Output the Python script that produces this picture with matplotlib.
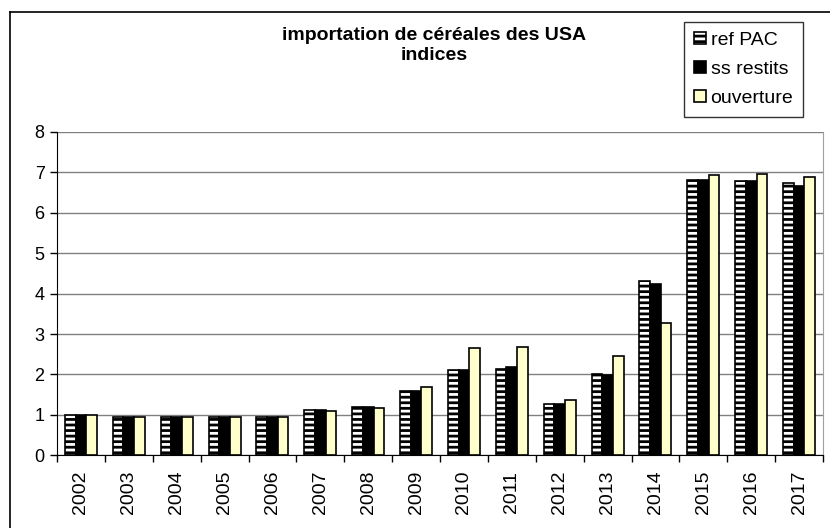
import numpy as np
import matplotlib
matplotlib.use('Agg')
import matplotlib.pyplot as plt
from matplotlib.lines import Line2D

plt.rcParams['font.family'] = ['Liberation Sans', 'DejaVu Sans']
plt.rcParams['hatch.color'] = 'black'
plt.rcParams['hatch.linewidth'] = 2.0

years = ['2002', '2003', '2004', '2005', '2006', '2007', '2008', '2009',
         '2010', '2011', '2012', '2013', '2014', '2015', '2016', '2017']
ref_pac = [1.00, 0.95, 0.95, 0.95, 0.95, 1.11, 1.19, 1.58,
           2.11, 2.14, 1.27, 2.02, 4.32, 6.82, 6.78, 6.74]
ss_restits = [1.00, 0.95, 0.95, 0.95, 0.95, 1.11, 1.19, 1.58,
              2.11, 2.18, 1.27, 1.98, 4.24, 6.80, 6.78, 6.66]
ouverture = [1.00, 0.95, 0.95, 0.95, 0.95, 1.10, 1.18, 1.69,
             2.65, 2.69, 1.38, 2.45, 3.28, 6.93, 6.97, 6.88]

fig = plt.figure(figsize=(8.3, 5.28), dpi=100)
ax = fig.add_axes([57 / 830, 1 - 455.3 / 528, (823 - 57) / 830, (455.3 - 132) / 528])

x = np.arange(len(years))
w = 0.222  # bar width

ax.bar(x - w, ref_pac, w, color='white', edgecolor='black', linewidth=1.2,
       hatch='---', label='ref PAC', zorder=3)
ax.bar(x, ss_restits, w, color='black', edgecolor='black', linewidth=1.2,
       label='ss restits', zorder=3)
ax.bar(x + w, ouverture, w, color='#ffffcc', edgecolor='black', linewidth=1.2,
       label='ouverture', zorder=3)

ax.set_xlim(-0.5, len(years) - 0.5)
ax.set_ylim(0, 8)
ax.set_yticks(range(9))
ax.yaxis.grid(True, color='#808080', linewidth=1.0, zorder=0)
ax.tick_params(axis='y', direction='out', length=5, width=1, labelsize=13, pad=4)

ax.set_xticks(x)
ax.set_xticklabels(years, rotation=90, fontsize=14)
ax.tick_params(axis='x', which='major', length=0, pad=11)
ax.set_xticks(np.arange(-0.5, len(years)), minor=True)
ax.tick_params(axis='x', which='minor', direction='out', length=5, width=1)

ax.spines['top'].set_visible(False)
ax.spines['right'].set_color('#a0a0a0')
ax.spines['left'].set_color('black')
ax.spines['bottom'].set_color('black')

fig.text(434 / 830, 1 - 27 / 528, 'importation de céréales des USA\nindices',
         ha='center', va='top', fontsize=14, fontweight='bold', linespacing=1.25)

leg = fig.legend(loc='upper right', bbox_to_anchor=(803 / 830, 1 - 22 / 528),
                 fontsize=14, frameon=True, fancybox=False, edgecolor='black',
                 handlelength=0.6, handleheight=0.6, handletextpad=0.25,
                 labelspacing=0.62, borderpad=0.5, borderaxespad=0)
leg.get_frame().set_linewidth(1.0)

# outer chart border (left and top visible)
fig.add_artist(Line2D([10 / 830, 10 / 830], [0, 1 - 12 / 528], color='black', linewidth=1.2))
fig.add_artist(Line2D([10 / 830, 1], [1 - 12 / 528, 1 - 12 / 528], color='black', linewidth=1.2))

fig.savefig('out.png', dpi=100)
